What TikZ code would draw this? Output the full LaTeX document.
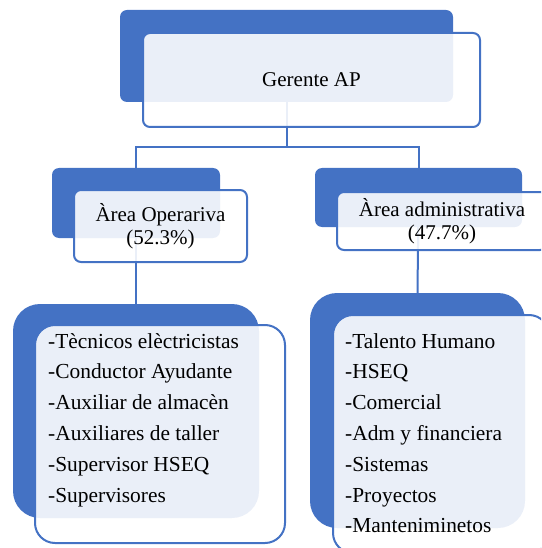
\documentclass[tikz,border=0pt]{standalone}
\usepackage{fontspec}
\setmainfont{Liberation Serif}
\definecolor{orgblue}{HTML}{4472C4}
\begin{document}
\begin{tikzpicture}[x=1pt,y=-1pt,
    backbox/.style={rectangle, fill=orgblue, draw=none, inner sep=0pt, rounded corners=7pt},
    frontbox/.style={rectangle, draw=orgblue, line width=2pt, fill=white, fill opacity=0.89, text opacity=1,
        inner sep=0pt, rounded corners=7pt, align=center, font=\fontsize{21}{22.5}\selectfont},
    link/.style={draw=orgblue, line width=2pt},
    listtext/.style={anchor=north west, align=left, inner sep=0pt, font=\fontsize{21.4}{30.8}\selectfont}]
    \clip (0,0) rectangle (541,548);
    % back boxes
    \node[backbox, minimum width=333pt, minimum height=92pt] (gback) at (286.5,56) {};
    \node[backbox, minimum width=168pt, minimum height=70pt] (opback) at (136,203) {};
    \node[backbox, minimum width=207pt, minimum height=59pt] (adback) at (418.5,197.5) {};
    \node[backbox, minimum width=246pt, minimum height=214pt, rounded corners=27pt] (opteamback) at (136,411) {};
    \node[backbox, minimum width=215pt, minimum height=235pt, rounded corners=27pt] (adteamback) at (417.5,410.5) {};
    % connectors
    \coordinate (split) at (286.5,147);
    \draw[link] (gback.center) -- (split);
    \draw[link] (opback.center) |- (split) -| (adback.center);
    \draw[link] (opback.center) -- (opteamback.north);
    \draw[link] (adback.center) -- (adteamback.north);
    % front boxes
    \node[frontbox, minimum width=337pt, minimum height=94pt] (gfront) at (311.5,80) {Gerente AP};
    \node[frontbox, minimum width=173pt, minimum height=72pt] (opfront) at (160.5,226) {Àrea Operariva\\(52.3\%)};
    \node[frontbox, minimum width=210pt, minimum height=58pt] (adfront) at (442,221) {Àrea administrativa\\(47.7\%)};
    \node[frontbox, minimum width=250pt, minimum height=218pt, rounded corners=20pt] (opteamfront) at (160,434) {};
    \node[frontbox, minimum width=216pt, minimum height=238pt, rounded corners=20pt] (adteamfront) at (441,434) {};
    % lists
    \node[listtext] (oplist) at (48,333) {-Tècnicos elèctricistas\\-Conductor Ayudante\\-Auxiliar de almacèn\\-Auxiliares de taller\\-Supervisor HSEQ\\-Supervisores};
    \node[listtext] (adlist) at (345,333) {-Talento Humano\\-HSEQ\\-Comercial\\-Adm y financiera\\-Sistemas\\-Proyectos\\-Manteniminetos};
\end{tikzpicture}
\end{document}
